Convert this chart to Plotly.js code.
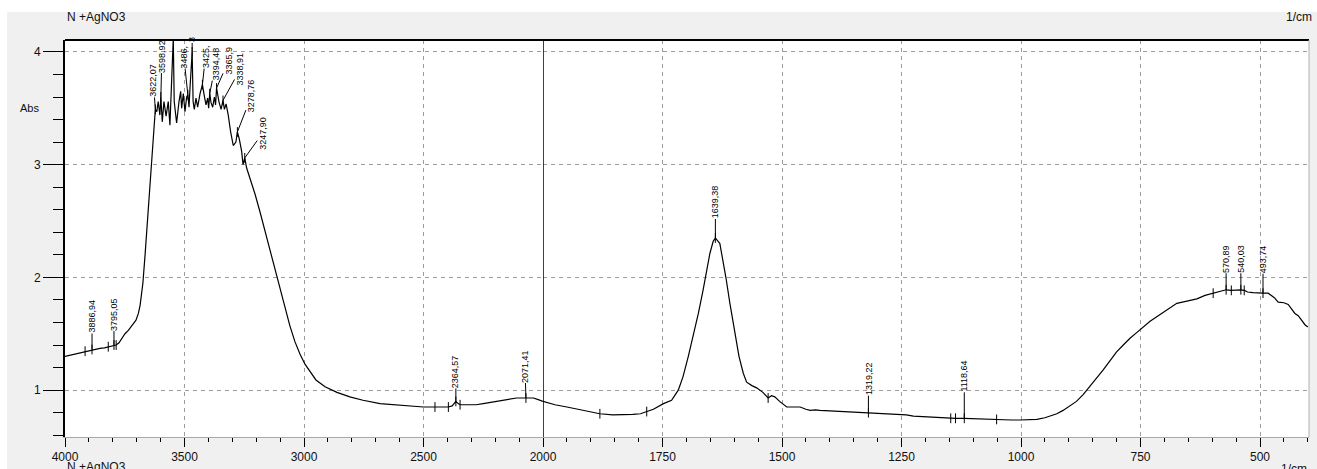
<!DOCTYPE html>
<html>
<head>
<meta charset="utf-8">
<script src="https://cdn.plot.ly/plotly-3.0.1.min.js"></script>
<style>
html,body{margin:0;padding:0;background:#ffffff;}
#chart{width:1317px;height:469px;}
</style>
</head>
<body>
<div id="chart"></div>
<script>
// ---- spectrum data (wavenumber in 1/cm, absorbance) ----
const wavenumber = [
4000,3960,3937,3916,3900,3886.94,3870,3854,3835,3819,3805,3795.05,3786,3774,3762,3749,3735,3720,3703,3693,
3686,3680,3674,3665,3657,3649,3640,3635,3630,3622.07,3616,3610,3603,3598.92,3593,3586,3577,3568,3561,3554,
3547,3543,3533,3523,3516,3512,3505,3498,3491,3486,3481,3477,3468,3464,3459,3452,3445,3435,3425,3418,
3410,3403,3399,3394.48,3389,3382,3375,3370,3365.9,3356,3347,3338.91,3333,3326,3317,3307,3296,3285,3278.76,3271,
3261,3255,3247.9,3240,3226,3205,3184,3163,3142,3121,3100,3080,3059,3038,3017,2996,2975,2950,2912,2862,
2808,2753,2682,2615,2557,2500,2452,2420,2396,2380,2364.57,2355,2347,2320,2280,2250,2200,2150,2110,2071.41,
2040,2020,2000,1975,1950,1925,1902,1881,1854,1833,1812,1796,1783,1769,1748,1731,1717,1707,1696,1686,
1675,1665,1658,1651,1644,1639.38,1630,1623,1617,1609,1600,1590,1581,1574,1563,1553,1540,1529,1522,1515,
1505,1490,1475,1462,1450,1441,1430,1421,1400,1379,1360,1340,1319.22,1300,1281,1260,1240,1225,1200,1170,
1156,1147,1137,1118.64,1090,1072,1051,1020,1002,967,950,939,925,912,898,884,870,856,842,828,
814,800,786,772,758,744,730,716,695,674,653,632,615,598,585,570.89,560,550,540.03,533,
526,515,505,493.74,483,470,462,450,441,434,427,420,413,409,406,400
];
const absorbance = [
1.30,1.32,1.33,1.345,1.35,1.36,1.365,1.37,1.375,1.385,1.39,1.40,1.40,1.42,1.46,1.50,1.53,1.57,1.62,1.68,
1.75,1.85,1.95,2.20,2.45,2.70,2.95,3.10,3.32,3.49,3.47,3.56,3.44,3.60,3.38,3.56,3.43,3.56,3.35,3.68,
4.12,3.56,3.37,3.56,3.65,3.50,3.63,3.47,3.60,3.62,3.51,3.68,4.00,3.56,3.49,3.59,3.51,3.63,3.71,3.62,
3.53,3.59,3.50,3.63,3.55,3.51,3.60,3.53,3.68,3.56,3.49,3.57,3.49,3.54,3.44,3.29,3.17,3.20,3.29,3.23,
3.12,3.00,3.06,2.97,2.88,2.74,2.58,2.41,2.24,2.07,1.90,1.73,1.57,1.43,1.32,1.23,1.17,1.09,1.03,0.98,
0.94,0.91,0.88,0.87,0.855,0.85,0.85,0.85,0.85,0.86,0.90,0.88,0.87,0.87,0.87,0.88,0.90,0.92,0.93,0.93,
0.93,0.915,0.90,0.87,0.85,0.83,0.81,0.79,0.78,0.78,0.785,0.79,0.81,0.83,0.88,0.91,1.00,1.12,1.30,1.47,
1.68,1.89,2.07,2.21,2.32,2.35,2.30,2.15,1.99,1.77,1.53,1.30,1.15,1.07,1.04,1.02,0.98,0.93,0.95,0.94,
0.90,0.85,0.85,0.85,0.83,0.82,0.825,0.82,0.815,0.81,0.805,0.80,0.80,0.795,0.79,0.785,0.78,0.77,0.765,0.755,
0.75,0.75,0.75,0.75,0.745,0.74,0.74,0.735,0.735,0.74,0.755,0.77,0.79,0.82,0.86,0.90,0.96,1.03,1.11,1.18,
1.26,1.34,1.40,1.46,1.51,1.56,1.61,1.65,1.71,1.77,1.79,1.81,1.84,1.86,1.875,1.89,1.885,1.89,1.89,1.885,
1.87,1.865,1.86,1.86,1.86,1.82,1.78,1.775,1.76,1.72,1.68,1.66,1.62,1.60,1.58,1.56
];

// ---- labelled peaks ----
const peakWn  = [3886.94,3795.05,3622.07,3598.92,3486,3468,3425,3394.48,3365.9,3338.91,3278.76,3247.9,
                 2364.57,2071.41,1639.38,1319.22,1118.64,570.89,540.03,493.74];
const peakAbs = [1.36,1.40,3.49,3.60,3.62,4.00,3.71,3.63,3.68,3.57,3.29,3.06,
                 0.90,0.93,2.35,0.80,0.75,1.89,1.89,1.86];
const peakLabel = ["3886,94","3795,05","3622,07","3598,92","3486,","3","3425,","3394,48","3365,9","3338,91","3278,76","3247,90",
                   "2364,57","2071,41","1639,38","1319,22","1118,64","570,89","540,03","493,74"];

// ---- unlabelled peak-pick ticks ----
const markWn  = [3916,3819,3786,2452,2396,2347,1881,1783,1529,1147,1137,1051,598,560,533];
const markAbs = [1.345,1.385,1.40,0.85,0.85,0.87,0.79,0.81,0.93,0.75,0.75,0.74,1.86,1.885,1.885];

// ---- axis ticks ----
const xTicksLeft  = [4000,3500,3000,2500];
const xTicksRight = [2000,1750,1500,1250,1000,750,500];
const yTicks = [1,2,3,4];
const xTitle = "1/cm";
const yTitle = "Abs";
const sampleName = "N +AgNO3";

// ---- label placement (pixel offsets of label centre from its peak) ----
const labelDx = [0,0,-2,1,-4,0,3,6,12,17,14,18, 0,-1,0,0,0,0,0,0];
const labelDy = [-33,-31,-29,-41,-38,-12,-28,-30,-27,-31,-36,-25, -30,-32,-36,-34,-42,-31,-31,-34];

// split into the two scale segments
function seg(xs, ys, keep){ const a=[],b=[]; xs.forEach((v,i)=>{ if(keep(v)){a.push(v);b.push(ys[i]);} }); return [a,b]; }
const [wL,aL] = seg(wavenumber, absorbance, v=>v>=2000);
const [wR,aR] = seg(wavenumber, absorbance, v=>v<=2000);
const allTickWn = peakWn.concat(markWn), allTickAbs = peakAbs.concat(markAbs);
const [tL,tLa] = seg(allTickWn, allTickAbs, v=>v>=2000);
const [tR,tRa] = seg(allTickWn, allTickAbs, v=>v<2000);

const lineStyle = {color:'#000000', width:1.2};
const tickMarker = {symbol:'line-ns-open', size:7, color:'#000', line:{width:1, color:'#000'}};
const traces = [
  {x:wL, y:aL, xaxis:'x', yaxis:'y', mode:'lines', line:lineStyle, hoverinfo:'skip'},
  {x:wR, y:aR, xaxis:'x2', yaxis:'y', mode:'lines', line:lineStyle, hoverinfo:'skip'},
  {x:tL, y:tLa, xaxis:'x', yaxis:'y', mode:'markers', marker:tickMarker, hoverinfo:'skip'},
  {x:tR, y:tRa, xaxis:'x2', yaxis:'y', mode:'markers', marker:tickMarker, hoverinfo:'skip'}
];

const minorLeft = [], minorRight = [], minorY = [];
for (let v=3900; v>2000; v-=100) if (v%500!==0) minorLeft.push(v);
for (let v=1950; v>=400; v-=50) if (v%250!==0) minorRight.push(v);
for (let k=3; k<=20; k++){ const v=+(k*0.2).toFixed(1); if (Math.abs(v-Math.round(v))>1e-6) minorY.push(v); }

const split = 478/1244;
const tickFont = {family:'Liberation Sans, Arial, sans-serif', size:12, color:'#111'};
const gridCol = '#9c9c9c';
const common = {
  ticks:'outside', ticklen:9, tickwidth:1, tickcolor:'#000', showgrid:true, gridcolor:gridCol, gridwidth:1,
  griddash:'4px,4px', showline:true, linecolor:'#a8a8a8', linewidth:1, zeroline:false, tickfont:tickFont,
  tickmode:'array', fixedrange:true, anchor:'y'
};

const annotations = peakWn.map((w,i)=>({
  x:w, y:peakAbs[i], xref: w>=2000 ? 'x':'x2', yref:'y',
  text:peakLabel[i], textangle:-90, showarrow:true, arrowhead:0, arrowwidth:1, arrowcolor:'#000',
  standoff:0, ax:labelDx[i], ay:labelDy[i], borderpad:0,
  font:{family:'Liberation Sans, Arial, sans-serif', size:9, color:'#000'}
}));
const txtFont = {family:'Liberation Sans, Arial, sans-serif', size:12, color:'#111'};
annotations.push(
  {xref:'paper', yref:'paper', x:0, y:1.0567, xanchor:'left', yanchor:'middle', text:sampleName, showarrow:false, font:txtFont},
  {xref:'paper', yref:'paper', x:1.004, y:1.0567, xanchor:'right', yanchor:'middle', text:xTitle, showarrow:false, font:txtFont},
  {xref:'paper', yref:'paper', x:0, y:-0.0768, xanchor:'left', yanchor:'middle', text:sampleName, showarrow:false, font:txtFont},
  {xref:'paper', yref:'paper', x:1.0, y:-0.0806, xanchor:'right', yanchor:'middle', text:xTitle, showarrow:false, font:txtFont},
  {xref:'paper', yref:'y', x:-0.0289, y:3.5, xanchor:'center', yanchor:'middle', text:yTitle, showarrow:false,
   font:{family:'Liberation Sans, Arial, sans-serif', size:11, color:'#111'}}
);

const layout = {
  width:1317, height:469,
  margin:{l:65, r:8, t:40, b:32},
  paper_bgcolor:'#f0f0f0', plot_bgcolor:'#ffffff',
  showlegend:false,
  xaxis: Object.assign({}, common, {domain:[0,split], range:[4000,2000], tickvals:xTicksLeft,
          minor:{tickvals:minorLeft, ticks:'outside', ticklen:4, tickwidth:1, tickcolor:'#000', showgrid:false}}),
  xaxis2: Object.assign({}, common, {domain:[split,1], range:[2000,397.5], tickvals:xTicksRight,
          minor:{tickvals:minorRight, ticks:'outside', ticklen:4, tickwidth:1, tickcolor:'#000', showgrid:false}}),
  yaxis: {domain:[0,1], range:[0.584,4.106], tickmode:'array', tickvals:yTicks, ticks:'outside', ticklen:20,
          tickwidth:1, tickcolor:'#000', showgrid:true, gridcolor:gridCol, griddash:'4px,4px', showline:true,
          linecolor:'#000', linewidth:2, zeroline:false, tickfont:tickFont, anchor:'x', fixedrange:true,
          minor:{tickvals:minorY, ticks:'outside', ticklen:10, tickwidth:1, tickcolor:'#000', showgrid:false}},
  shapes:[
    {type:'rect', xref:'paper', yref:'paper', x0:-0.1, x1:1.1, y0:1.0705, y1:1.2, fillcolor:'#ffffff', line:{width:0}, layer:'below'},
    {type:'rect', xref:'paper', yref:'paper', x0:-0.1, x1:-0.0466, y0:-0.2, y1:1.2, fillcolor:'#ffffff', line:{width:0}, layer:'below'},
    {type:'line', xref:'paper', yref:'paper', x0:0, x1:1, y0:1, y1:1, line:{color:'#000', width:2}},
    {type:'line', xref:'paper', yref:'paper', x0:1, x1:1, y0:0, y1:1, line:{color:'#b0b0b0', width:1}},
    {type:'line', xref:'x2', yref:'paper', x0:2000, x1:2000, y0:0, y1:1, line:{color:'#000', width:1.5}}
  ],
  annotations:annotations
};

Plotly.newPlot('chart', traces, layout, {staticPlot:true, displayModeBar:false});
</script>
</body>
</html>
